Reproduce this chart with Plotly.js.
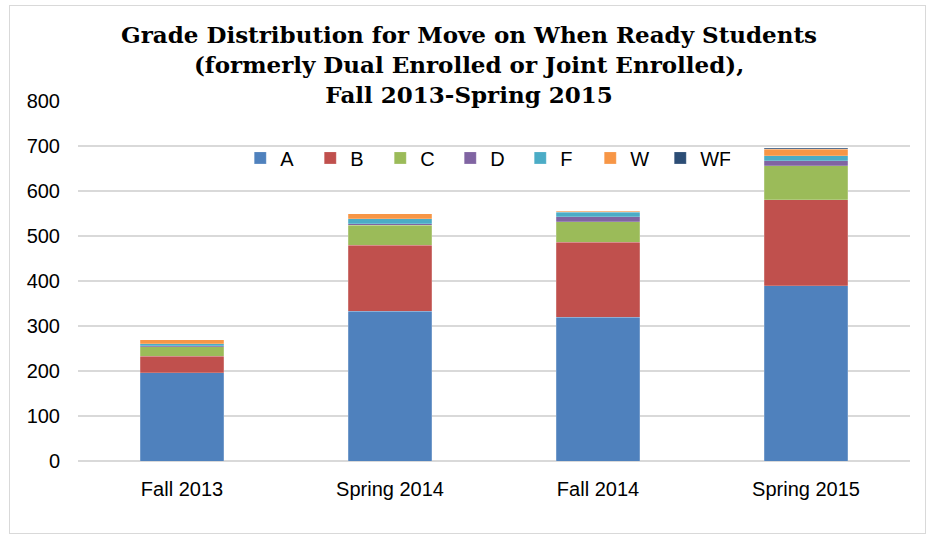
<!DOCTYPE html>
<html><head><meta charset="utf-8">
<script src="https://cdn.plot.ly/plotly-3.0.1.min.js"></script>
<style>body{margin:0;padding:0;background:#fff}#frame{position:absolute;left:9px;top:5px;width:915px;height:527px;border:1px solid #d9d9d9;pointer-events:none}</style>
</head><body>
<div id="chart" style="width:927px;height:535px"></div>
<div id="frame"></div>
<script>
const terms = ["Fall 2013", "Spring 2014", "Fall 2014", "Spring 2015"];
const gradeA = [196, 333, 319, 390];
const gradeB = [37, 147, 167, 191];
const gradeC = [21, 44, 46, 75];
const gradeD = [2, 3, 11, 11];
const gradeF = [5, 11, 10, 11];
const gradeW = [8, 12, 2, 15];
const gradeWF = [0, 0, 1, 2];
const seriesNames = ["A", "B", "C", "D", "F", "W", "WF"];
const seriesColors = ["#4f81bd", "#c0504d", "#9bbb59", "#8064a2", "#4bacc6", "#f79646", "#2c4d75"];
const seriesData = [gradeA, gradeB, gradeC, gradeD, gradeF, gradeW, gradeWF];

const traces = seriesData.map((d, i) => ({
  type: "bar", name: seriesNames[i], x: terms, y: d,
  marker: {color: seriesColors[i], line: {color: "rgba(255,255,255,0.4)", width: 0.5}},
  hoverinfo: "x+y+name"
}));

const layout = {
  width: 927, height: 535,
  barmode: "stack", bargap: 0.6,
  margin: {l: 78, r: 17, t: 101, b: 74},
  paper_bgcolor: "#fff", plot_bgcolor: "#fff",
  font: {family: "Liberation Sans, Arial, sans-serif", color: "#000", size: 20},
  title: {
    text: "<b>Grade Distribution for Move on When Ready Students<br>(formerly Dual Enrolled or Joint Enrolled),<br>Fall 2013-Spring 2015</b>",
    font: {family: "DejaVu Serif, serif", size: 23, color: "#000"},
    x: 0.506, xref: "container", xanchor: "center",
    y: 0.92, yref: "container", yanchor: "top"
  },
  xaxis: {
    type: "category", showgrid: false, zeroline: false, showline: false,
    ticks: "", tickfont: {size: 20}, ticklabelstandoff: 14
  },
  yaxis: {
    range: [0, 800], dtick: 100, tick0: 0,
    showgrid: true, gridcolor: "#d9d9d9", gridwidth: 2,
    zeroline: true, zerolinecolor: "#d9d9d9", zerolinewidth: 2,
    showline: false, ticks: "", tickfont: {size: 20}, ticklabelstandoff: 17
  },
  showlegend: true,
  legend: {
    orientation: "h", x: 0.195, xanchor: "left", y: 0.842, yanchor: "middle",
    traceorder: "normal", entrywidth: 25, entrywidthmode: "pixels",
    font: {size: 20}, bgcolor: "rgba(0,0,0,0)"
  }
};

Plotly.newPlot("chart", traces, layout, {displayModeBar: false, staticPlot: true});
</script>
</body></html>
